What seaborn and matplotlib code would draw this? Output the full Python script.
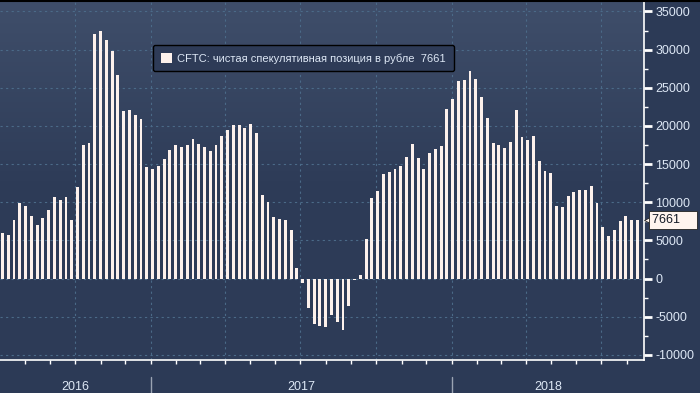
import numpy as np
import pandas as pd
import matplotlib
matplotlib.use('Agg')
import matplotlib.pyplot as plt
import matplotlib.dates as mdates
import matplotlib.transforms as mtransforms
from matplotlib.colors import LinearSegmentedColormap
from matplotlib.ticker import MultipleLocator, FuncFormatter, NullFormatter
import seaborn as sns

# weekly CFTC net speculative position in RUB (contracts)
START = '2016-07-05'
net_pos = [
    6030, 5760, 7730, 9960, 9560, 8250, 7070, 7990, 9040, 10740,
    10350, 10740, 7730, 12050, 17550, 17820, 32100, 32490, 31310, 29870,
    26720, 22010, 22140, 21480, 20960, 14670, 14410, 14800, 15720, 16900,
    17550, 17290, 17550, 18340, 17690, 17290, 16770, 17550, 18730, 19520,
    20170, 20170, 19780, 20310, 19130, 11000, 10090, 8120, 7860, 7730,
    6420, 1440, -650, -3800, -5900, -6160, -6290, -4720, -5760, -6810,
    -3540, -150, 520, 5240, 10610, 11530, 13760, 14020, 14410, 14800,
    15980, 17690, 15850, 14410, 16510, 17030, 17420, 22270, 23580, 25940,
    26070, 27250, 26200, 23840, 21090, 17820, 17550, 17160, 17950, 22140,
    18600, 18210, 18730, 15460, 14150, 13890, 9560, 9430, 10870, 11400,
    11660, 11660, 12180, 9960, 6810, 5630, 6420, 7600, 8250, 7730,
    7661,
]
years = ['2016', '2017', '2018']
year_edges = ['2016-07-02', '2017-01-01', '2018-01-01', '2018-08-22']
LABEL = 'CFTC: чистая спекулятивная позиция в рубле  7661'
LAST = 7661

BG = '#2c3a56'
BAR = '#fdf1ec'
GRID = '#4b6a88'
TXT = '#dde7f5'

sns.set_style('dark')
plt.rcParams['font.family'] = ['Liberation Sans', 'DejaVu Sans']
plt.rcParams['axes.unicode_minus'] = False

dates = pd.date_range(START, periods=len(net_pos), freq='7D')
df = pd.DataFrame({'date': mdates.date2num(dates), 'net': net_pos})
edges = mdates.date2num(pd.to_datetime(year_edges))

fig = plt.figure(figsize=(7, 3.93), dpi=100, facecolor=BG)
ax = fig.add_axes([0, 33 / 393, 644 / 700, 358 / 393])
ax.set_facecolor(BG)

# background gradient inside the plot
cmap = LinearSegmentedColormap.from_list('bg', ['#2d3b57', '#2e3c58', '#3f4e6a'])
grad = np.linspace(0, 1, 256)[:, None]
ax.imshow(grad, cmap=cmap, origin='lower', extent=[0, 1, 0, 1],
          transform=ax.transAxes, aspect='auto', zorder=-2)

sns.barplot(data=df, x='date', y='net', native_scale=True, orient='x',
            width=0.5, color=BAR, saturation=1, errorbar=None,
            linewidth=0, label=LABEL, ax=ax, zorder=3)

ax.set_xlim(edges[0], edges[-1])
ax.set_ylim(-10680, 36240)
ax.set_xlabel('')
ax.set_ylabel('')

# y axis on the right
ax.yaxis.tick_right()
ax.yaxis.set_major_locator(MultipleLocator(5000))
ax.yaxis.set_minor_locator(MultipleLocator(2500))
ax.yaxis.set_major_formatter(FuncFormatter(lambda v, p: f'{int(v)}'))
ax.tick_params(axis='y', which='major', right=True, left=False, length=6,
               width=2, color='white', labelcolor=TXT, labelsize=9, pad=2)
ax.tick_params(axis='y', which='minor', right=True, left=False, length=3,
               width=1, color='white')

# x axis: quarters for the grid, months for the ticks
ax.xaxis.set_major_locator(mdates.MonthLocator(bymonth=[1, 4, 7, 10]))
ax.xaxis.set_minor_locator(mdates.MonthLocator())
ax.xaxis.set_major_formatter(NullFormatter())
ax.xaxis.set_minor_formatter(NullFormatter())
ax.tick_params(axis='x', which='both', bottom=True, length=3, width=1,
               color='white', direction='out')

ax.grid(which='major', axis='both', color=GRID, ls=(0, (2, 3)), lw=0.8)
ax.set_axisbelow(True)

for s in ['left', 'top']:
    ax.spines[s].set_visible(False)
for s in ['right', 'bottom']:
    ax.spines[s].set_color('white')
    ax.spines[s].set_linewidth(1.2)

# year labels under the axis
trans = mtransforms.blended_transform_factory(ax.transData, ax.transAxes)
for i, yr in enumerate(years):
    ax.text((edges[i] + edges[i + 1]) / 2, -27 / 358, yr, transform=trans,
            ha='center', va='center', color=TXT, fontsize=9)
for e in edges[1:-1]:
    ax.plot([e, e], [-17 / 358, -34 / 358], transform=trans, color='#9aa3b2',
            lw=1, clip_on=False)

# legend box
leg = ax.legend(loc='upper left', bbox_to_anchor=(153 / 644, 315 / 358),
                borderaxespad=0, fontsize=8, labelcolor=TXT, frameon=True,
                facecolor='#2e3b57', edgecolor='black', framealpha=1,
                handlelength=1.0, handleheight=1.0, handletextpad=0.5,
                borderpad=0.7)
leg.get_frame().set_linewidth(1.0)

# last value tag
ytrans = mtransforms.blended_transform_factory(ax.transAxes, ax.transData)
ax.plot([1 + 5 / 644], [LAST], marker='<', ms=7, color='#fff4ee', mec='#222222',
        mew=0.6, transform=ytrans, clip_on=False, zorder=5)
ax.text(1 + 8 / 644, LAST, f'{LAST}    ', transform=ytrans, ha='left',
        va='center', fontsize=9, color='#141a26', zorder=6,
        bbox=dict(boxstyle='square,pad=0.25', fc='#fff4ee', ec='#222222', lw=0.6))

# thin black strip on top
fig.add_artist(plt.Line2D([0, 1], [1 - 1 / 393, 1 - 1 / 393], color='black',
                          lw=1.5, transform=fig.transFigure))

fig.savefig('out.png', dpi=100, facecolor=BG)
